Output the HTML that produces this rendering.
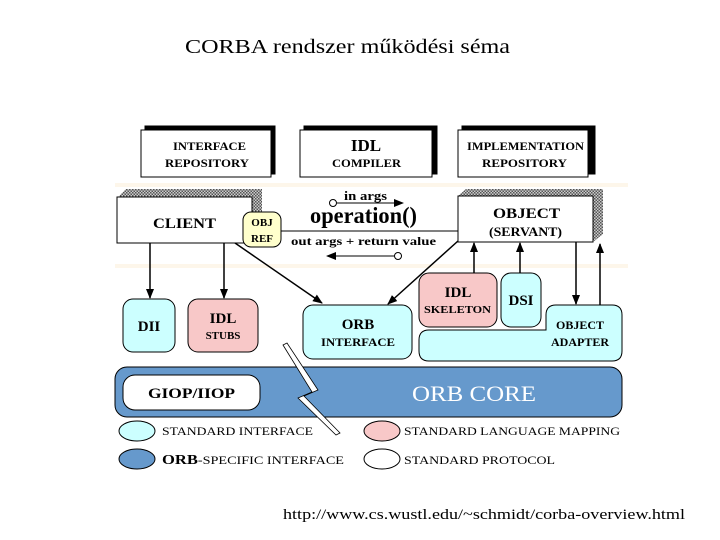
<!DOCTYPE html>
<html><head><meta charset="utf-8"><style>
html,body{margin:0;padding:0;background:#fff;}
svg{display:block}
text{font-family:"Liberation Serif",serif;font-weight:bold;fill:#000}
</style></head><body>
<svg width="720" height="540" viewBox="0 0 720 540" xmlns="http://www.w3.org/2000/svg">
<defs>
<pattern id="h" width="3" height="3" patternUnits="userSpaceOnUse"><rect width="3" height="3" fill="#ccc"/><rect width="1.5" height="1.5" fill="#555"/><rect x="1.5" y="1.5" width="1.5" height="1.5" fill="#555"/></pattern>
<marker id="a" markerWidth="10" markerHeight="10" refX="9" refY="5" orient="auto" markerUnits="userSpaceOnUse"><path d="M0,1 L10,5 L0,9 Z" fill="#000"/></marker>
</defs>
<text x="185" y="53" font-size="20" textLength="325" lengthAdjust="spacingAndGlyphs" style="font-weight:normal">CORBA rendszer működési séma</text>
<rect x="115" y="125" width="513" height="347" fill="#fff"/>
<rect x="115" y="183" width="513" height="4" fill="#fdf6ea"/>
<rect x="115" y="264" width="513" height="4" fill="#fdf6ea"/>
<g stroke="#000" stroke-width="1">
<rect x="145" y="126" width="130" height="48" fill="#000"/>
<rect x="141" y="130" width="130" height="47" fill="#fff"/>
<rect x="304" y="126" width="133" height="48" fill="#000"/>
<rect x="300" y="130" width="132" height="47" fill="#fff"/>
<rect x="462" y="126" width="133" height="48" fill="#000"/>
<rect x="458" y="130" width="130" height="47" fill="#fff"/>
</g>
<text x="173" y="150" font-size="12" textLength="73" lengthAdjust="spacingAndGlyphs">INTERFACE</text>
<text x="165" y="167" font-size="12" textLength="84" lengthAdjust="spacingAndGlyphs">REPOSITORY</text>
<text x="366" y="151" font-size="17" text-anchor="middle">IDL</text>
<text x="332" y="167" font-size="12" textLength="69" lengthAdjust="spacingAndGlyphs">COMPILER</text>
<text x="467" y="150" font-size="12" textLength="117" lengthAdjust="spacingAndGlyphs">IMPLEMENTATION</text>
<text x="482" y="167" font-size="12" textLength="85" lengthAdjust="spacingAndGlyphs">REPOSITORY</text>
<polygon points="118,197 126,189 262,189 262,236 252,243 252,197" fill="url(#h)"/>
<rect x="117" y="197" width="135" height="46" fill="#fff" stroke="#000"/>
<text x="153" y="228" font-size="15" textLength="63" lengthAdjust="spacingAndGlyphs">CLIENT</text>
<polygon points="458,196 466,189 603,189 603,234 593,242 593,196" fill="url(#h)"/>
<rect x="458" y="196" width="135" height="46" fill="#fff" stroke="#000"/>
<text x="493" y="218" font-size="15" textLength="67" lengthAdjust="spacingAndGlyphs">OBJECT</text>
<text x="489" y="236" font-size="13" textLength="73" lengthAdjust="spacingAndGlyphs">(SERVANT)</text>
<line x1="281" y1="231" x2="458" y2="231" stroke="#000"/>
<rect x="243" y="212" width="38" height="35" rx="8" fill="#ffffcc" stroke="#000"/>
<text x="262" y="226" font-size="11" text-anchor="middle">OBJ</text>
<text x="262" y="242" font-size="11" text-anchor="middle">REF</text>
<text x="344" y="200" font-size="13" textLength="43" lengthAdjust="spacingAndGlyphs">in  args</text>
<circle cx="333" cy="203" r="3.5" fill="#fff" stroke="#000"/>
<line x1="337" y1="203" x2="403" y2="203" stroke="#000" marker-end="url(#a)"/>
<text x="310" y="223" font-size="23" textLength="107" lengthAdjust="spacingAndGlyphs">operation()</text>
<text x="291" y="245" font-size="12" textLength="145" lengthAdjust="spacingAndGlyphs">out  args + return  value</text>
<circle cx="398" cy="256" r="3.5" fill="#fff" stroke="#000"/>
<line x1="394" y1="256" x2="327" y2="256" stroke="#000" marker-end="url(#a)"/>
<g stroke="#000" stroke-width="1.5">
<line x1="150" y1="243" x2="150" y2="298" marker-end="url(#a)"/>
<line x1="224" y1="243" x2="224" y2="298" marker-end="url(#a)"/>
<line x1="235" y1="243" x2="322" y2="303" marker-end="url(#a)"/>
<line x1="458" y1="241" x2="388" y2="304" marker-end="url(#a)"/>
<line x1="474" y1="273" x2="474" y2="243" marker-end="url(#a)"/>
<line x1="520" y1="273" x2="520" y2="243" marker-end="url(#a)"/>
<line x1="576" y1="242" x2="576" y2="304" marker-end="url(#a)"/>
<line x1="600" y1="305" x2="600" y2="244" marker-end="url(#a)"/>
</g>
<g stroke="#000">
<rect x="123" y="299" width="52" height="53" rx="10" fill="#ccffff"/>
<rect x="188" y="299" width="70" height="53" rx="10" fill="#f8c8c8"/>
<rect x="303" y="305" width="109" height="54" rx="10" fill="#ccffff"/>
<rect x="419" y="273" width="78" height="54" rx="10" fill="#f8c8c8"/>
<rect x="501" y="273" width="40" height="54" rx="10" fill="#ccffff"/>
<path d="M556,305 H612 Q622,305 622,315 V351 Q622,361 612,361 H429 Q419,361 419,351 V340 Q419,330 429,330 H546 V315 Q546,305 556,305 Z" fill="#ccffff"/>
</g>
<text x="149" y="331" font-size="15" text-anchor="middle">DII</text>
<text x="223" y="323" font-size="15" text-anchor="middle">IDL</text>
<text x="223" y="339" font-size="11" text-anchor="middle">STUBS</text>
<text x="358" y="329" font-size="15" text-anchor="middle">ORB</text>
<text x="321" y="346" font-size="12" textLength="74" lengthAdjust="spacingAndGlyphs">INTERFACE</text>
<text x="458" y="297" font-size="15" text-anchor="middle">IDL</text>
<text x="424" y="313" font-size="11" textLength="67" lengthAdjust="spacingAndGlyphs">SKELETON</text>
<text x="521" y="305" font-size="15" text-anchor="middle">DSI</text>
<text x="580" y="329" font-size="12" text-anchor="middle">OBJECT</text>
<text x="580" y="346" font-size="12" text-anchor="middle">ADAPTER</text>
<rect x="115" y="367" width="507" height="50" rx="12" fill="#6699cc" stroke="#000"/>
<rect x="123" y="375" width="137" height="35" rx="12" fill="#fff" stroke="#000"/>
<text x="148" y="398" font-size="15" textLength="87" lengthAdjust="spacingAndGlyphs">GIOP/IIOP</text>
<text x="412" y="401" font-size="22" textLength="124" lengthAdjust="spacingAndGlyphs" style="font-weight:normal;fill:#fff">ORB  CORE</text>
<polygon points="283,345 287,343 318,390 304,396 340,433 336,435 298,398 312,392" fill="#fff" stroke="#000" stroke-width="0.8"/>
<g stroke="#000">
<ellipse cx="137" cy="431" rx="18" ry="10" fill="#ccffff"/>
<ellipse cx="137" cy="459" rx="18" ry="10" fill="#6699cc"/>
<ellipse cx="382" cy="431" rx="18" ry="10" fill="#f8c8c8"/>
<ellipse cx="382" cy="459" rx="18" ry="10" fill="#fff"/>
</g>
<text x="162" y="435" font-size="12" textLength="151" lengthAdjust="spacingAndGlyphs" style="font-weight:normal">STANDARD  INTERFACE</text>
<text x="162" y="464" font-size="12" textLength="182" lengthAdjust="spacingAndGlyphs" style="font-weight:normal"><tspan font-size="14" font-weight="bold">ORB</tspan>-SPECIFIC  INTERFACE</text>
<text x="404" y="435" font-size="12" textLength="216" lengthAdjust="spacingAndGlyphs" style="font-weight:normal">STANDARD  LANGUAGE  MAPPING</text>
<text x="404" y="464" font-size="12" textLength="151" lengthAdjust="spacingAndGlyphs" style="font-weight:normal">STANDARD  PROTOCOL</text>
<text x="283" y="519" font-size="15" textLength="402" lengthAdjust="spacingAndGlyphs" style="font-weight:normal">http://www.cs.wustl.edu/~schmidt/corba-overview.html</text>
</svg>
</body></html>
